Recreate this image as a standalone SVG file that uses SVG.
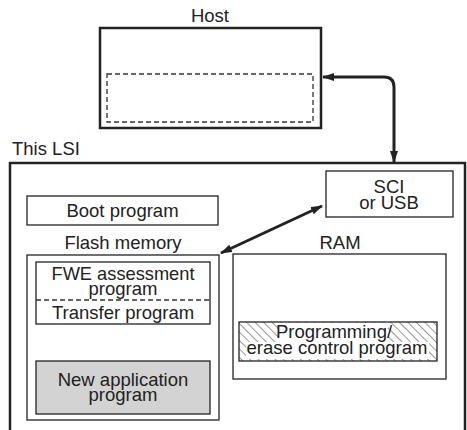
<svg xmlns="http://www.w3.org/2000/svg" width="467" height="430" viewBox="0 0 467 430">
<style>
text{font-family:"Liberation Sans",Arial,sans-serif;font-size:18.5px;fill:#222;}
.c{text-anchor:middle;}
.thick{fill:none;stroke:#222;stroke-width:2.5;}
.thin{fill:none;stroke:#222;stroke-width:1.3;}
.dash{fill:none;stroke:#333;stroke-width:1.3;stroke-dasharray:5,3;}
.conn{fill:none;stroke:#222;stroke-width:3;}
</style>
<defs>
<marker id="ah" viewBox="0 0 12 8" refX="11" refY="4" markerWidth="12" markerHeight="8" markerUnits="userSpaceOnUse" orient="auto-start-reverse">
<path d="M0,0 L12,4 L0,8 Z" fill="#222"/>
</marker>
<pattern id="hatch" patternUnits="userSpaceOnUse" width="6" height="6" patternTransform="rotate(-45)">
<line x1="0" y1="0" x2="0" y2="6" stroke="#333" stroke-width="1"/>
</pattern>
</defs>
<g id="host">
<text class="c" x="210" y="22">Host</text>
<rect class="thick" x="100" y="28" width="221" height="100"/>
<rect class="dash" x="107" y="74" width="206" height="48"/>
</g>
<g id="lsi">
<text x="12" y="155">This LSI</text>
<rect class="thick" x="10" y="163" width="455" height="280"/>
</g>
<g id="boot">
<rect class="thin" x="27" y="196" width="191" height="29"/>
<text class="c" x="122.5" y="217">Boot program</text>
</g>
<g id="flash">
<text class="c" x="123" y="249">Flash memory</text>
<rect class="thin" x="27" y="255" width="192" height="165"/>
</g>
<g id="fwe">
<rect class="thin" x="36" y="262" width="174" height="62"/>
<line class="dash" x1="36" y1="300" x2="210" y2="300"/>
<text class="c" x="123" y="280"><tspan x="123" textLength="143" lengthAdjust="spacingAndGlyphs">FWE assessment</tspan><tspan x="123" dy="15">program</tspan></text>
<text class="c" x="123" y="319">Transfer program</text>
</g>
<g id="newapp">
<rect x="36" y="361" width="174" height="53" fill="#d3d3d3" stroke="#222" stroke-width="1.3"/>
<text class="c" x="123" y="386"><tspan x="123">New application</tspan><tspan x="123" dy="15">program</tspan></text>
</g>
<g id="sci">
<rect class="thin" x="326" y="171" width="127" height="46"/>
<text class="c" x="389" y="193"><tspan x="389">SCI</tspan><tspan x="389" dy="16">or USB</tspan></text>
</g>
<g id="ram">
<text class="c" x="340" y="249">RAM</text>
<rect class="thin" x="233" y="254" width="213" height="125"/>
</g>
<g id="pecp">
<rect x="239" y="322" width="198" height="39" fill="url(#hatch)" stroke="#222" stroke-width="1.3"/>
<rect x="279" y="323" width="109" height="19" fill="#fff"/>
<rect x="246" y="342" width="183" height="17" fill="#fff"/>
<text class="c" x="334" y="338"><tspan x="334">Programming/</tspan><tspan x="337" dy="16">erase control program</tspan></text>
</g>
<g id="connectors">
<path class="conn" d="M323,77 H384 Q394,77 394,87 V162" marker-start="url(#ah)" marker-end="url(#ah)"/>
<line class="conn" x1="221" y1="253" x2="322" y2="206" marker-start="url(#ah)" marker-end="url(#ah)"/>
</g>
</svg>
